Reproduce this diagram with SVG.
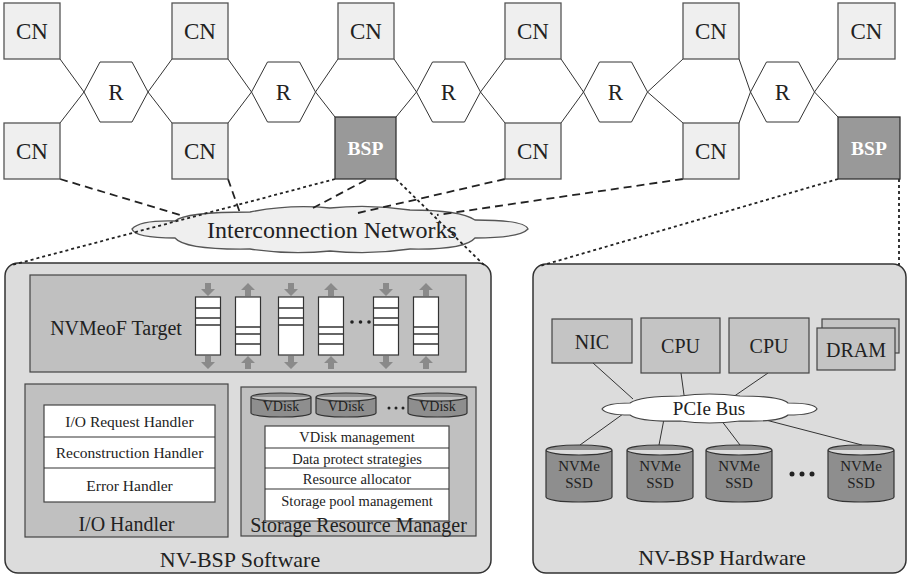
<svg xmlns="http://www.w3.org/2000/svg" xmlns:xlink="http://www.w3.org/1999/xlink" width="909" height="575" viewBox="0 0 909 575">
<style>
text{font-family:"Liberation Serif","Times New Roman",serif;fill:#222;text-anchor:middle;dominant-baseline:central}
.cn{fill:#efefef;stroke:#555;stroke-width:1.3}
.bsp{fill:#999;stroke:#333;stroke-width:1.3}
.bspt{fill:#fff;font-weight:bold;font-size:19.5px}
.hex{fill:#fff;stroke:#333;stroke-width:1}
.outer{fill:#dcdcdc;stroke:#333;stroke-width:1.5}
.inner{fill:#c0c0c0;stroke:#444;stroke-width:1.2}
.white{fill:#fff;stroke:#444;stroke-width:1.2}
.q{fill:#fff;stroke:#333;stroke-width:1.2}
.ql{stroke:#333;stroke-width:1.5}
.hw{fill:#c4c4c4;stroke:#444;stroke-width:1.2}
.cyl{fill:#8e8e8e;stroke:#333;stroke-width:1.2}
.cloud{fill:#efefef;stroke:#555;stroke-width:1.3}
.wire{stroke:#333;stroke-width:1;fill:none}
.dash{stroke:#222;stroke-width:1.8;stroke-dasharray:8,5;fill:none}
.dot{stroke:#222;stroke-width:1.8;stroke-dasharray:3,3;fill:none}
.arr{fill:#8a8a8a}
</style>
<defs>
<path id="adn" class="arr" d="M-3,0 H3 V6 H7 L0,13 L-7,6 H-3 Z"/>
<path id="aup" class="arr" d="M-3,13 H3 V7 H7 L0,0 L-7,7 H-3 Z"/>
</defs>

<!-- outer boxes -->
<g id="sw-box">
<rect class="outer" x="5" y="263" width="486" height="310" rx="13"/>
<text x="240" y="559" style="font-size:22px">NV-BSP Software</text>
</g>
<g id="hw-box">
<rect class="outer" x="533" y="264" width="373" height="309" rx="13"/>
<text x="722" y="557" style="font-size:22px">NV-BSP Hardware</text>
</g>

<!-- cloud -->
<g id="cloud-net">
<path class="cloud" d="M132,229 Q140,220 175,221 Q185,212 250,212 Q290,204 330,208 Q370,204 410,210 Q460,210 475,220 Q525,220 528,229 Q520,238 475,238 Q465,250 410,249 Q370,255 330,251 Q290,255 250,249 Q185,250 175,238 Q135,238 132,229 Z"/>
<text x="332" y="230" style="font-size:24px">Interconnection Networks</text>
</g>

<!-- connectors -->
<g id="connectors">
<line class="wire" x1="84" y1="92" x2="60" y2="59"/>
<line class="wire" x1="84" y1="92" x2="60" y2="123"/>
<line class="wire" x1="148" y1="92" x2="172" y2="59"/>
<line class="wire" x1="148" y1="92" x2="172" y2="123"/>
<line class="wire" x1="251.5" y1="92" x2="228" y2="59"/>
<line class="wire" x1="251.5" y1="92" x2="228" y2="123"/>
<line class="wire" x1="315.5" y1="92" x2="338" y2="59"/>
<line class="wire" x1="315.5" y1="92" x2="335" y2="117"/>
<line class="wire" x1="416.5" y1="92" x2="394" y2="59"/>
<line class="wire" x1="416.5" y1="92" x2="396" y2="117"/>
<line class="wire" x1="480.5" y1="92" x2="505" y2="59"/>
<line class="wire" x1="480.5" y1="92" x2="505" y2="123"/>
<line class="wire" x1="583.5" y1="92" x2="561" y2="59"/>
<line class="wire" x1="583.5" y1="92" x2="561" y2="123"/>
<line class="wire" x1="647.5" y1="92" x2="683" y2="59"/>
<line class="wire" x1="647.5" y1="92" x2="683" y2="123"/>
<line class="wire" x1="750.5" y1="92" x2="739" y2="59"/>
<line class="wire" x1="750.5" y1="92" x2="739" y2="123"/>
<line class="wire" x1="814.5" y1="92" x2="838" y2="59"/>
<line class="wire" x1="814.5" y1="92" x2="838" y2="117"/>

<line class="dash" x1="60" y1="179" x2="180" y2="215"/>
<line class="dash" x1="228" y1="179" x2="240" y2="213"/>
<line class="dash" x1="366" y1="180" x2="313" y2="208"/>
<line class="dash" x1="505" y1="179" x2="358" y2="213"/>
<line class="dash" x1="683" y1="179" x2="437" y2="215"/>
<line class="dot" x1="335" y1="179" x2="12" y2="265"/>
<line class="dot" x1="396" y1="179" x2="484" y2="265"/>
<line class="dot" x1="838" y1="179" x2="540" y2="266"/>
<line class="dot" x1="899" y1="179" x2="899" y2="265"/>

<line class="wire" x1="593" y1="363" x2="633" y2="399"/>
<line class="wire" x1="681" y1="373" x2="684" y2="395"/>
<line class="wire" x1="768" y1="373" x2="733" y2="397"/>
<line class="wire" x1="623" y1="414" x2="580" y2="445"/>
<line class="wire" x1="664" y1="419" x2="659" y2="445"/>
<line class="wire" x1="721" y1="420" x2="740" y2="445"/>
<line class="wire" x1="758" y1="418" x2="862" y2="445"/>
</g>

<!-- top row -->
<g id="cn1"><rect class="cn" x="4" y="3" width="56" height="56"/><text x="32" y="31" style="font-size:23px">CN</text></g>
<g id="cn2"><rect class="cn" x="172" y="3" width="56" height="56"/><text x="200" y="31" style="font-size:23px">CN</text></g>
<g id="cn3"><rect class="cn" x="338" y="3" width="56" height="56"/><text x="366" y="31" style="font-size:23px">CN</text></g>
<g id="cn4"><rect class="cn" x="505" y="3" width="56" height="56"/><text x="533" y="31" style="font-size:23px">CN</text></g>
<g id="cn5"><rect class="cn" x="683" y="3" width="56" height="56"/><text x="711" y="31" style="font-size:23px">CN</text></g>
<g id="cn6"><rect class="cn" x="838" y="3" width="57" height="56"/><text x="866.5" y="31" style="font-size:23px">CN</text></g>

<!-- bottom row -->
<g id="cn7"><rect class="cn" x="4" y="123" width="56" height="56"/><text x="32" y="151" style="font-size:23px">CN</text></g>
<g id="cn8"><rect class="cn" x="172" y="123" width="56" height="56"/><text x="200" y="151" style="font-size:23px">CN</text></g>
<g id="bsp1"><rect class="bsp" x="335" y="117" width="61" height="62"/><text class="bspt" x="365.5" y="148">BSP</text></g>
<g id="cn9"><rect class="cn" x="505" y="123" width="56" height="56"/><text x="533" y="151" style="font-size:23px">CN</text></g>
<g id="cn10"><rect class="cn" x="683" y="123" width="56" height="56"/><text x="711" y="151" style="font-size:23px">CN</text></g>
<g id="bsp2"><rect class="bsp" x="838" y="117" width="62" height="62"/><text class="bspt" x="869" y="148">BSP</text></g>

<!-- routers -->
<g id="r1"><polygon class="hex" points="84,92 100,62 132,62 148,92 132,122 100,122"/><text x="116" y="92" style="font-size:23px">R</text></g>
<g id="r2"><polygon class="hex" points="251.5,92 267.5,62 299.5,62 315.5,92 299.5,122 267.5,122"/><text x="283.5" y="92" style="font-size:23px">R</text></g>
<g id="r3"><polygon class="hex" points="416.5,92 432.5,62 464.5,62 480.5,92 464.5,122 432.5,122"/><text x="448.5" y="92" style="font-size:23px">R</text></g>
<g id="r4"><polygon class="hex" points="583.5,92 599.5,62 631.5,62 647.5,92 631.5,122 599.5,122"/><text x="615.5" y="92" style="font-size:23px">R</text></g>
<g id="r5"><polygon class="hex" points="750.5,92 766.5,62 798.5,62 814.5,92 798.5,122 766.5,122"/><text x="782.5" y="92" style="font-size:23px">R</text></g>

<!-- NVMeoF target -->
<g id="nvmeof">
<rect class="inner" x="30" y="275" width="436" height="97"/>
<text x="116" y="328" style="font-size:20px">NVMeoF Target</text>
<rect class="q" x="195.5" y="297" width="25" height="58"/>
<line class="ql" x1="195.5" y1="308" x2="220.5" y2="308"/><line class="ql" x1="195.5" y1="318" x2="220.5" y2="318"/><line class="ql" x1="195.5" y1="325" x2="220.5" y2="325"/>
<use xlink:href="#adn" x="208" y="283"/><use xlink:href="#adn" x="208" y="356"/>
<rect class="q" x="235.5" y="297" width="25" height="58"/>
<line class="ql" x1="235.5" y1="327" x2="260.5" y2="327"/><line class="ql" x1="235.5" y1="334" x2="260.5" y2="334"/><line class="ql" x1="235.5" y1="344" x2="260.5" y2="344"/>
<use xlink:href="#aup" x="248" y="283"/><use xlink:href="#aup" x="248" y="356"/>
<rect class="q" x="278.5" y="297" width="25" height="58"/>
<line class="ql" x1="278.5" y1="308" x2="303.5" y2="308"/><line class="ql" x1="278.5" y1="318" x2="303.5" y2="318"/><line class="ql" x1="278.5" y1="325" x2="303.5" y2="325"/>
<use xlink:href="#adn" x="291" y="283"/><use xlink:href="#adn" x="291" y="356"/>
<rect class="q" x="318.5" y="297" width="25" height="58"/>
<line class="ql" x1="318.5" y1="327" x2="343.5" y2="327"/><line class="ql" x1="318.5" y1="334" x2="343.5" y2="334"/><line class="ql" x1="318.5" y1="344" x2="343.5" y2="344"/>
<use xlink:href="#aup" x="331" y="283"/><use xlink:href="#aup" x="331" y="356"/>
<circle cx="352" cy="322" r="1.8" fill="#222"/><circle cx="360.5" cy="322" r="1.8" fill="#222"/><circle cx="369" cy="322" r="1.8" fill="#222"/>
<rect class="q" x="373.5" y="297" width="25" height="58"/>
<line class="ql" x1="373.5" y1="308" x2="398.5" y2="308"/><line class="ql" x1="373.5" y1="318" x2="398.5" y2="318"/><line class="ql" x1="373.5" y1="325" x2="398.5" y2="325"/>
<use xlink:href="#adn" x="386" y="283"/><use xlink:href="#adn" x="386" y="356"/>
<rect class="q" x="413.5" y="297" width="25" height="58"/>
<line class="ql" x1="413.5" y1="327" x2="438.5" y2="327"/><line class="ql" x1="413.5" y1="334" x2="438.5" y2="334"/><line class="ql" x1="413.5" y1="344" x2="438.5" y2="344"/>
<use xlink:href="#aup" x="426" y="283"/><use xlink:href="#aup" x="426" y="356"/>
</g>

<!-- I/O handler -->
<g id="io-handler">
<rect class="inner" x="25" y="384" width="203" height="153"/>
<rect class="white" x="44" y="405" width="171" height="97"/>
<line class="ql" x1="44" y1="437" x2="215" y2="437" style="stroke-width:1.2"/>
<line class="ql" x1="44" y1="468" x2="215" y2="468" style="stroke-width:1.2"/>
<text x="129.5" y="421.5" style="font-size:15.5px">I/O Request Handler</text>
<text x="129.5" y="452.5" style="font-size:15.5px">Reconstruction Handler</text>
<text x="129.5" y="485" style="font-size:15.5px">Error Handler</text>
<text x="126.5" y="524" style="font-size:20px">I/O Handler</text>
</g>

<!-- Storage resource manager -->
<g id="srm">
<rect class="inner" x="241" y="387" width="235" height="149"/>
<path class="cyl" d="M251,397 A30,4 0 0,1 311,397 V413 A30,4 0 0,1 251,413 Z M251,397 A30,4 0 0,0 311,397"/>
<text x="281" y="406.5" style="font-size:14px">VDisk</text>
<path class="cyl" d="M316,397 A30,4 0 0,1 376,397 V413 A30,4 0 0,1 316,413 Z M316,397 A30,4 0 0,0 376,397"/>
<text x="346" y="406.5" style="font-size:14px">VDisk</text>
<circle cx="389" cy="408" r="1.5" fill="#222"/><circle cx="396" cy="408" r="1.5" fill="#222"/><circle cx="403" cy="408" r="1.5" fill="#222"/>
<path class="cyl" d="M408,397 A29.5,4 0 0,1 467,397 V413 A29.5,4 0 0,1 408,413 Z M408,397 A29.5,4 0 0,0 467,397"/>
<text x="437.5" y="406.5" style="font-size:14px">VDisk</text>
<rect class="white" x="265" y="426" width="184" height="95"/>
<line class="ql" x1="265" y1="448" x2="449" y2="448" style="stroke-width:1.2"/>
<line class="ql" x1="265" y1="468" x2="449" y2="468" style="stroke-width:1.2"/>
<line class="ql" x1="265" y1="489" x2="449" y2="489" style="stroke-width:1.2"/>
<text x="357" y="437" style="font-size:14.5px">VDisk management</text>
<text x="357" y="458.5" style="font-size:14.5px">Data protect strategies</text>
<text x="357" y="479" style="font-size:14.5px">Resource allocator</text>
<text x="357" y="500.5" style="font-size:14.5px">Storage pool management</text>
<text x="358.5" y="525" style="font-size:20px">Storage Resource Manager</text>
</g>

<!-- hardware -->
<g id="nic"><rect class="hw" x="552" y="319" width="80" height="44"/><text x="592" y="342" style="font-size:20px">NIC</text></g>
<g id="cpu1"><rect class="hw" x="641" y="318" width="79" height="55"/><text x="680.5" y="346" style="font-size:20px">CPU</text></g>
<g id="cpu2"><rect class="hw" x="729" y="318" width="80" height="55"/><text x="769" y="346" style="font-size:20px">CPU</text></g>
<g id="dram"><rect class="hw" x="822" y="319" width="77" height="34"/><rect class="hw" x="817" y="328" width="78" height="42"/><text x="856" y="350" style="font-size:20px">DRAM</text></g>
<g id="pcie">
<path d="M602,409 Q606,403 630,403 Q640,396 680,396 Q709,392 740,396 Q780,396 788,403 Q815,403 817,409 Q813,415 788,415 Q780,422 740,421 Q709,425 680,421 Q640,422 630,415 Q606,415 602,409 Z" fill="#fff" stroke="#444" stroke-width="1.2"/>
<text x="709" y="408" style="font-size:19px">PCIe Bus</text>
</g>
<g id="ssd1"><path class="cyl" d="M546,450 A33,5 0 0,1 612,450 V497 A33,5 0 0,1 546,497 Z M546,450 A33,5 0 0,0 612,450"/><text x="579" y="466" style="font-size:15px">NVMe</text><text x="579" y="483" style="font-size:15px">SSD</text></g>
<g id="ssd2"><path class="cyl" d="M627,450 A33,5 0 0,1 693,450 V497 A33,5 0 0,1 627,497 Z M627,450 A33,5 0 0,0 693,450"/><text x="660" y="466" style="font-size:15px">NVMe</text><text x="660" y="483" style="font-size:15px">SSD</text></g>
<g id="ssd3"><path class="cyl" d="M706,450 A33,5 0 0,1 772,450 V497 A33,5 0 0,1 706,497 Z M706,450 A33,5 0 0,0 772,450"/><text x="739" y="466" style="font-size:15px">NVMe</text><text x="739" y="483" style="font-size:15px">SSD</text></g>
<circle cx="792" cy="474" r="2.5" fill="#222"/><circle cx="802" cy="474" r="2.5" fill="#222"/><circle cx="812" cy="474" r="2.5" fill="#222"/>
<g id="ssd4"><path class="cyl" d="M828,450 A33,5 0 0,1 894,450 V497 A33,5 0 0,1 828,497 Z M828,450 A33,5 0 0,0 894,450"/><text x="861" y="466" style="font-size:15px">NVMe</text><text x="861" y="483" style="font-size:15px">SSD</text></g>
</svg>
